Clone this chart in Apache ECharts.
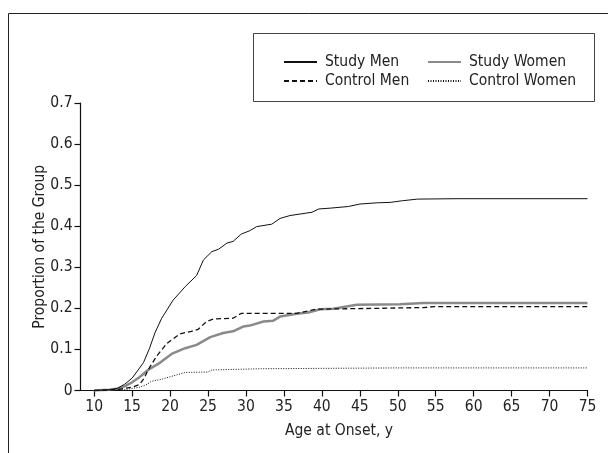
<!DOCTYPE html>
<html>
<head>
<meta charset="utf-8">
<script src="https://cdn.jsdelivr.net/npm/echarts@6/dist/echarts.min.js"></script>
<style>
  html, body { margin: 0; padding: 0; background: #fff; }
  #main { width: 608px; height: 453px; }
</style>
</head>
<body>
<div id="main"></div>
<script>
// tick labels on x
var xTicks = [10, 15, 20, 25, 30, 35, 40, 45, 50, 55, 60, 65, 70, 75];

// Study Men
var studyMenAge = [10, 12, 13, 14, 15, 15.8, 16.5, 17.3, 18, 18.9, 20.4, 22, 23.5, 24.4, 25.5, 26.4, 27.5, 28.3, 29.4, 30.5, 31.4, 33.4, 34.5, 35.8, 38.7, 39.6, 41.1, 43.5, 45, 47.3, 49, 50.6, 52.6, 57.8, 75];
var studyMenVal = [0, 0.002, 0.005, 0.015, 0.03, 0.05, 0.068, 0.103, 0.14, 0.176, 0.22, 0.253, 0.28, 0.318, 0.338, 0.344, 0.359, 0.363, 0.381, 0.389, 0.399, 0.405, 0.419, 0.426, 0.434, 0.442, 0.444, 0.448, 0.454, 0.457, 0.458, 0.462, 0.466, 0.467, 0.467];

// Study Women
var studyWomenAge = [10, 12, 13, 14, 15, 16, 17.1, 18.7, 20.2, 22, 23.5, 25.3, 27, 28.3, 29.7, 30.5, 32.3, 33.6, 34.5, 36.7, 38.2, 39.8, 41.5, 44.6, 50.3, 53.4, 75];
var studyWomenVal = [0, 0.002, 0.004, 0.01, 0.02, 0.033, 0.05, 0.068, 0.089, 0.103, 0.111, 0.13, 0.14, 0.144, 0.156, 0.158, 0.168, 0.17, 0.18, 0.187, 0.19, 0.198, 0.199, 0.209, 0.21, 0.213, 0.213];

// Control Men
var controlMenAge = [10, 13, 14, 15, 16, 16.6, 17.1, 18.2, 19.6, 21.3, 22.8, 23.7, 24.8, 25.7, 28.3, 29.4, 36.7, 39.3, 47, 53.4, 54.7, 75];
var controlMenVal = [0, 0.002, 0.005, 0.008, 0.015, 0.03, 0.05, 0.083, 0.115, 0.138, 0.144, 0.149, 0.168, 0.174, 0.176, 0.188, 0.188, 0.198, 0.2, 0.202, 0.204, 0.204];

// Control Women
var controlWomenAge = [10, 14, 15, 16, 17, 17.5, 19, 20.5, 22, 25, 25.5, 32, 50, 75];
var controlWomenVal = [0, 0.002, 0.005, 0.008, 0.015, 0.022, 0.028, 0.036, 0.044, 0.045, 0.05, 0.053, 0.055, 0.055];

function pairs(a, v) {
  var out = [];
  for (var i = 0; i < a.length; i++) out.push([a[i], v[i]]);
  return out;
}

var FONT = '"Liberation Sans Narrow", "DejaVu Sans Condensed", sans-serif';
var FS = 15.5;
var chart = echarts.init(document.getElementById('main'), null, { renderer: 'canvas' });

var legendBase = {
  top: 49, orient: 'vertical', itemGap: 3,
  itemWidth: 33, itemHeight: 18,
  itemStyle: { opacity: 0 },
  textStyle: { fontFamily: FONT, fontSize: FS, color: '#222', padding: [0, 0, 0, 3] }
};

var option = {
  animation: false,
  backgroundColor: '#fff',
  textStyle: { fontFamily: FONT, color: '#222' },
  graphic: [
    // outer frame (top + left, runs off the page)
    { type: 'rect', silent: true, shape: { x: 8.5, y: 13.5, width: 700, height: 600 },
      style: { fill: 'none', stroke: '#222', lineWidth: 1 } },
    // legend box
    { type: 'rect', silent: true, shape: { x: 253.5, y: 33.5, width: 341, height: 68 },
      style: { fill: '#fff', stroke: '#444', lineWidth: 1 }, z: 0 }
  ],
  legend: [
    Object.assign({}, legendBase, { left: 278, data: ['Study Men', 'Control Men'] }),
    Object.assign({}, legendBase, { left: 422, data: ['Study Women', 'Control Women'] })
  ],
  grid: { left: 80.5, right: 20.5, top: 103, bottom: 62.5, containLabel: false },
  xAxis: {
    type: 'value', min: 8.2, max: 75,
    name: 'Age at Onset, y', nameLocation: 'middle', nameGap: 32,
    nameTextStyle: { fontFamily: FONT, fontSize: FS, color: '#222', padding: [0, 0, 0, 10] },
    axisLine: { lineStyle: { color: '#111', width: 1.2 } },
    axisTick: { show: true, length: 6, customValues: xTicks, lineStyle: { color: '#111', width: 1.2 } },
    axisLabel: { customValues: xTicks, fontFamily: FONT, fontSize: FS, color: '#222', margin: 8 },
    splitLine: { show: false }
  },
  yAxis: {
    type: 'value', min: 0, max: 0.7, interval: 0.1,
    name: 'Proportion of the Group', nameLocation: 'middle', nameGap: 33,
    nameMoveOverlap: false,
    nameTextStyle: { fontFamily: FONT, fontSize: FS, color: '#222' },
    axisLine: { show: true, lineStyle: { color: '#111', width: 1.2 } },
    axisTick: { show: true, length: 6, lineStyle: { color: '#111', width: 1.2 } },
    axisLabel: { fontFamily: FONT, fontSize: FS, color: '#222', margin: 8,
      formatter: function (v) { return v === 0 ? '0' : v.toFixed(1); } },
    splitLine: { show: false }
  },
  series: [{
    name: 'Study Men', type: 'line', symbol: 'none', z: 4,
    lineStyle: { color: '#111', width: 1 },
    data: pairs(studyMenAge, studyMenVal)
  }, {
    name: 'Study Women', type: 'line', symbol: 'none', z: 3,
    lineStyle: { color: '#8a8a8a', width: 2.5 },
    data: pairs(studyWomenAge, studyWomenVal)
  }, {
    name: 'Control Men', type: 'line', symbol: 'none', z: 4,
    lineStyle: { color: '#111', width: 1.3, type: [5, 3] },
    data: pairs(controlMenAge, controlMenVal)
  }, {
    name: 'Control Women', type: 'line', symbol: 'none', z: 4,
    lineStyle: { color: '#111', width: 1, type: [1, 1.5] },
    data: pairs(controlWomenAge, controlWomenVal)
  }]
};
chart.setOption(option);
</script>
</body>
</html>
